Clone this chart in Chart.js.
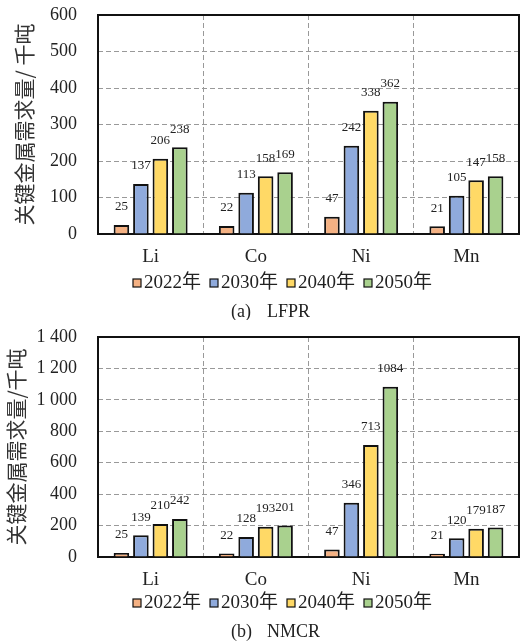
<!DOCTYPE html>
<html>
<head>
<meta charset="utf-8">
<script src="https://cdn.jsdelivr.net/npm/chart.js@4.4.1/dist/chart.umd.min.js"></script>
<style>
  body { margin: 0; background: #fff; }
  canvas { display: block; }
</style>
</head>
<body>
<canvas id="lfprCanvas" width="521" height="320"></canvas>
<canvas id="nmcrCanvas" width="521" height="321"></canvas>
<script>
// categories and series
const metals = ['Li', 'Co', 'Ni', 'Mn'];
const years = ['2022年', '2030年', '2040年', '2050年'];
const yearColors = ['#F4B183', '#8FAADC', '#FFD966', '#A9D18E'];

// (a) LFPR
const lfpr2022 = [25, 22, 47, 21];
const lfpr2030 = [137, 113, 242, 105];
const lfpr2040 = [206, 158, 338, 147];
const lfpr2050 = [238, 169, 362, 158];
const lfprTicks = [0, 100, 200, 300, 400, 500, 600];

// (b) NMCR
const nmcr2022 = [25, 22, 47, 21];
const nmcr2030 = [139, 128, 346, 120];
const nmcr2040 = [210, 193, 713, 179];
const nmcr2050 = [242, 201, 1084, 187];
const nmcrTicks = [0, 200, 400, 600, 800, 1000, 1200, 1400];

const SERIF = "'Liberation Serif', 'Noto Sans CJK SC', serif";
const CJK = "'Noto Sans CJK SC', sans-serif";

document.addEventListener('DOMContentLoaded', function() {
    createChart('lfprCanvas', [lfpr2022, lfpr2030, lfpr2040, lfpr2050], lfprTicks,
        '关键金属需求量/ 千吨', ['(a)', 'LFPR'], { top: 15, xHeight: 86, titlePad: 11 });
    createChart('nmcrCanvas', [nmcr2022, nmcr2030, nmcr2040, nmcr2050], nmcrTicks,
        '关键金属需求量/千吨', ['(b)', 'NMCR'], { top: 17, xHeight: 84, titlePad: 3 });
});

function formatTick(v) {
    return String(v).replace(/\B(?=(\d{3})+(?!\d))/g, ' ');
}

// black box round the plot area
const framePlugin = {
    id: 'frame',
    beforeDatasetsDraw(chart) {
        const a = chart.chartArea;
        const ctx = chart.ctx;
        ctx.save();
        ctx.strokeStyle = '#111';
        ctx.lineWidth = 2;
        ctx.strokeRect(a.left, a.top, a.right - a.left, a.bottom - a.top);
        ctx.restore();
    }
};

// value above every bar
const valuePlugin = {
    id: 'values',
    afterDatasetsDraw(chart) {
        const ctx = chart.ctx;
        ctx.save();
        ctx.font = '13px ' + SERIF;
        ctx.fillStyle = '#222';
        ctx.textAlign = 'center';
        ctx.textBaseline = 'middle';
        chart.data.datasets.forEach((ds, i) => {
            chart.getDatasetMeta(i).data.forEach((bar, j) => {
                ctx.fillText(ds.data[j], bar.x, bar.y - 18);
            });
        });
        ctx.restore();
    }
};

// legend row and caption under the axis
const legendPlugin = {
    id: 'legendRow',
    afterDraw(chart, args, opts) {
        const ctx = chart.ctx;
        ctx.save();
        ctx.font = '19px ' + SERIF;
        ctx.textBaseline = 'middle';
        ctx.textAlign = 'left';
        let x = 133;
        const y = 283;
        chart.data.datasets.forEach(ds => {
            ctx.fillStyle = ds.backgroundColor;
            ctx.fillRect(x, y - 4, 8, 8);
            ctx.strokeStyle = '#111';
            ctx.lineWidth = 1.2;
            ctx.strokeRect(x, y - 4, 8, 8);
            ctx.fillStyle = '#222';
            ctx.fillText(ds.label, x + 11, y);
            x += 11 + ctx.measureText(ds.label).width + 9;
        });
        ctx.font = '18px ' + SERIF;
        ctx.fillText(opts.caption[0], 231, 312);
        ctx.fillText(opts.caption[1], 267, 312);
        ctx.restore();
    }
};

function createChart(canvasId, series, ticks, yTitle, caption, box) {
    const ctx = document.getElementById(canvasId).getContext('2d');
    return new Chart(ctx, {
        type: 'bar',
        data: {
            labels: metals,
            datasets: series.map((values, i) => ({
                label: years[i],
                data: values,
                backgroundColor: yearColors[i],
                borderColor: '#111',
                borderWidth: 2,
                categoryPercentage: 0.74,
                barPercentage: 0.8
            }))
        },
        options: {
            responsive: false,
            animation: false,
            layout: { padding: { top: 0, right: 2, left: 0, bottom: 0 } },
            plugins: {
                legend: { display: false },
                tooltip: { enabled: false },
                legendRow: { caption: caption }
            },
            scales: {
                x: {
                    grid: { color: '#999', lineWidth: 1, drawTicks: false, offset: true },
                    border: { display: false, dash: [5, 3] },
                    ticks: { color: '#222', padding: 12, font: { family: SERIF, size: 19 } },
                    afterFit: s => { s.height = box.xHeight; }
                },
                y: {
                    min: ticks[0],
                    max: ticks[ticks.length - 1],
                    grid: { color: '#999', lineWidth: 1, drawTicks: false },
                    border: { display: false, dash: [5, 3] },
                    ticks: {
                        stepSize: ticks[1] - ticks[0],
                        color: '#222',
                        padding: 21,
                        font: { family: SERIF, size: 18 },
                        callback: v => formatTick(v)
                    },
                    title: {
                        display: true,
                        text: yTitle,
                        color: '#333',
                        padding: { top: box.titlePad, bottom: 0 },
                        font: { family: CJK, size: 21 }
                    },
                    afterFit: s => {
                        s.width = 98;
                        s.paddingTop = box.top;
                        s.paddingBottom = 0;
                    }
                }
            }
        },
        plugins: [framePlugin, valuePlugin, legendPlugin]
    });
}
</script>
</body>
</html>
